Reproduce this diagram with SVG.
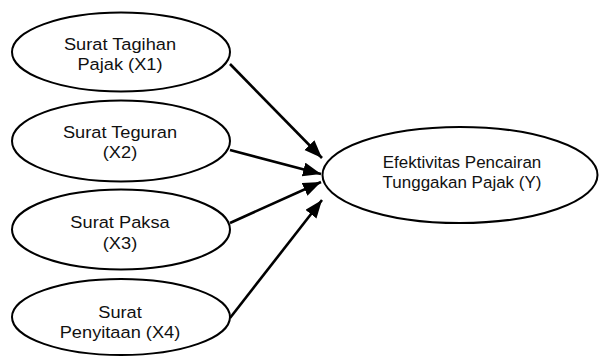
<svg xmlns="http://www.w3.org/2000/svg" width="599" height="356" viewBox="0 0 599 356">
<style>
.node ellipse{fill:#fff;stroke:#000;stroke-width:2}
.node text{font-family:"Liberation Sans",Arial,sans-serif;font-size:17.2px;fill:#111;text-anchor:middle}
#y text{font-size:16.5px}
.edge{stroke:#000;stroke-width:2.6;fill:none;marker-end:url(#arr)}
</style>
<defs>
<marker id="arr" markerUnits="userSpaceOnUse" markerWidth="20" markerHeight="16" refX="18" refY="7" orient="auto">
<path d="M0,0 L18,7 L0,14 z" fill="#000"/>
</marker>
</defs>
<rect width="599" height="356" fill="#fff"/>
<g id="x1" class="node">
<ellipse cx="121" cy="52" rx="109" ry="39.5"/>
<text transform="translate(120,50) scale(1.06,1)">Surat Tagihan</text>
<text transform="translate(120,70) scale(1.06,1)">Pajak (X1)</text>
</g>
<g id="x2" class="node">
<ellipse cx="121" cy="141" rx="109" ry="40.5"/>
<text transform="translate(120,138) scale(1.06,1)">Surat Teguran</text>
<text transform="translate(120,158) scale(1.06,1)">(X2)</text>
</g>
<g id="x3" class="node">
<ellipse cx="121" cy="229.5" rx="109" ry="40"/>
<text transform="translate(120,228) scale(1.06,1)">Surat Paksa</text>
<text transform="translate(120,249) scale(1.06,1)">(X3)</text>
</g>
<g id="x4" class="node">
<ellipse cx="121" cy="317" rx="109" ry="38"/>
<text transform="translate(120,318) scale(1.06,1)">Surat</text>
<text transform="translate(120,338) scale(1.06,1)">Penyitaan (X4)</text>
</g>
<g id="y" class="node">
<ellipse cx="460" cy="175" rx="137.5" ry="48"/>
<text transform="translate(462,168) scale(1.03,1)">Efektivitas Pencairan</text>
<text transform="translate(462,188) scale(1.03,1)">Tunggakan Pajak (Y)</text>
</g>
<g id="connectors">
<line class="edge" x1="230" y1="64" x2="322" y2="158"/>
<line class="edge" x1="230" y1="150" x2="321" y2="174"/>
<line class="edge" x1="230" y1="223" x2="321" y2="182"/>
<line class="edge" x1="230" y1="318" x2="322" y2="200"/>
</g>
</svg>
